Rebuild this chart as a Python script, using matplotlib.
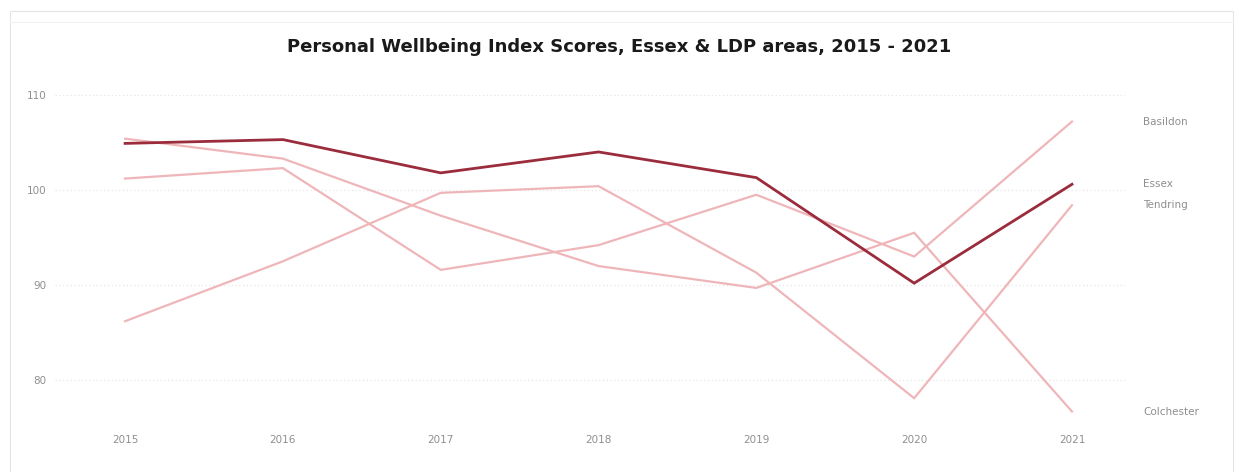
import numpy as np
import matplotlib
matplotlib.use("Agg")
import matplotlib.pyplot as plt
from matplotlib.patches import Rectangle
from matplotlib.lines import Line2D

# Index scores by area, 2015 - 2021
years = [2015, 2016, 2017, 2018, 2019, 2020, 2021]
essex = [104.9, 105.3, 101.8, 104.0, 101.3, 90.2, 100.6]
basildon = [101.2, 102.3, 91.6, 94.2, 99.5, 93.0, 107.2]
colchester = [105.4, 103.3, 97.3, 92.0, 89.7, 95.5, 76.7]
tendring = [86.2, 92.5, 99.7, 100.4, 91.3, 78.1, 98.4]
y_ticks = [80, 90, 100, 110]

DARK = "#9b2c3c"
LIGHT = "#efb6ba"
GREY = "#8f8f8f"

fig = plt.figure(figsize=(12.39, 4.72), dpi=100)
ax = fig.add_axes([0.0444, 0.110, 0.8636, 0.699])

# light areas first, Essex on top
others = [("Basildon", basildon), ("Colchester", colchester), ("Tendring", tendring)]
for name, vals in others:
    ax.plot(years, vals, color=LIGHT, linewidth=1.6, solid_joinstyle="miter", zorder=2)
ax.plot(years, essex, color=DARK, linewidth=2.0, solid_joinstyle="miter", zorder=3)

# end-of-line labels
for name, vals in [("Basildon", basildon), ("Essex", essex),
                   ("Tendring", tendring), ("Colchester", colchester)]:
    ax.text(years[-1] + 0.45, vals[-1], name, fontsize=7.5, color=GREY,
            va="center", ha="left", clip_on=False)

ax.set_xlim(years[0] - 0.444, years[-1] + 0.336)
ax.set_ylim(75.8, 110.5)
ax.set_xticks(years)
ax.set_xticklabels([str(y) for y in years])
ax.set_yticks(y_ticks)
ax.tick_params(axis="both", length=0, labelsize=7.5, labelcolor=GREY)
ax.tick_params(axis="x", pad=11)
ax.tick_params(axis="y", pad=6)
ax.grid(axis="y", color="#e6e6e6", linestyle=(0, (1, 2)), linewidth=0.9)
ax.set_axisbelow(True)
for s in ax.spines.values():
    s.set_visible(False)

fig.text(0.5, 0.900, "Personal Wellbeing Index Scores, Essex & LDP areas, 2015 - 2021",
         ha="center", va="center", fontsize=13, fontweight="bold", color="#1a1a1a")

# faint card border
W, H = 1239, 472
fig.patches.append(Rectangle((10 / W, -0.05), (1233 - 10) / W, 1.05 - 11 / H,
                             transform=fig.transFigure, fill=False,
                             edgecolor="#e4e4e4", linewidth=0.8))
fig.lines.append(Line2D([10 / W, 1233 / W], [1 - 22 / H, 1 - 22 / H],
                        transform=fig.transFigure, color="#f2f2f2", linewidth=0.8))

fig.savefig("out.png", dpi=100, facecolor="white")
